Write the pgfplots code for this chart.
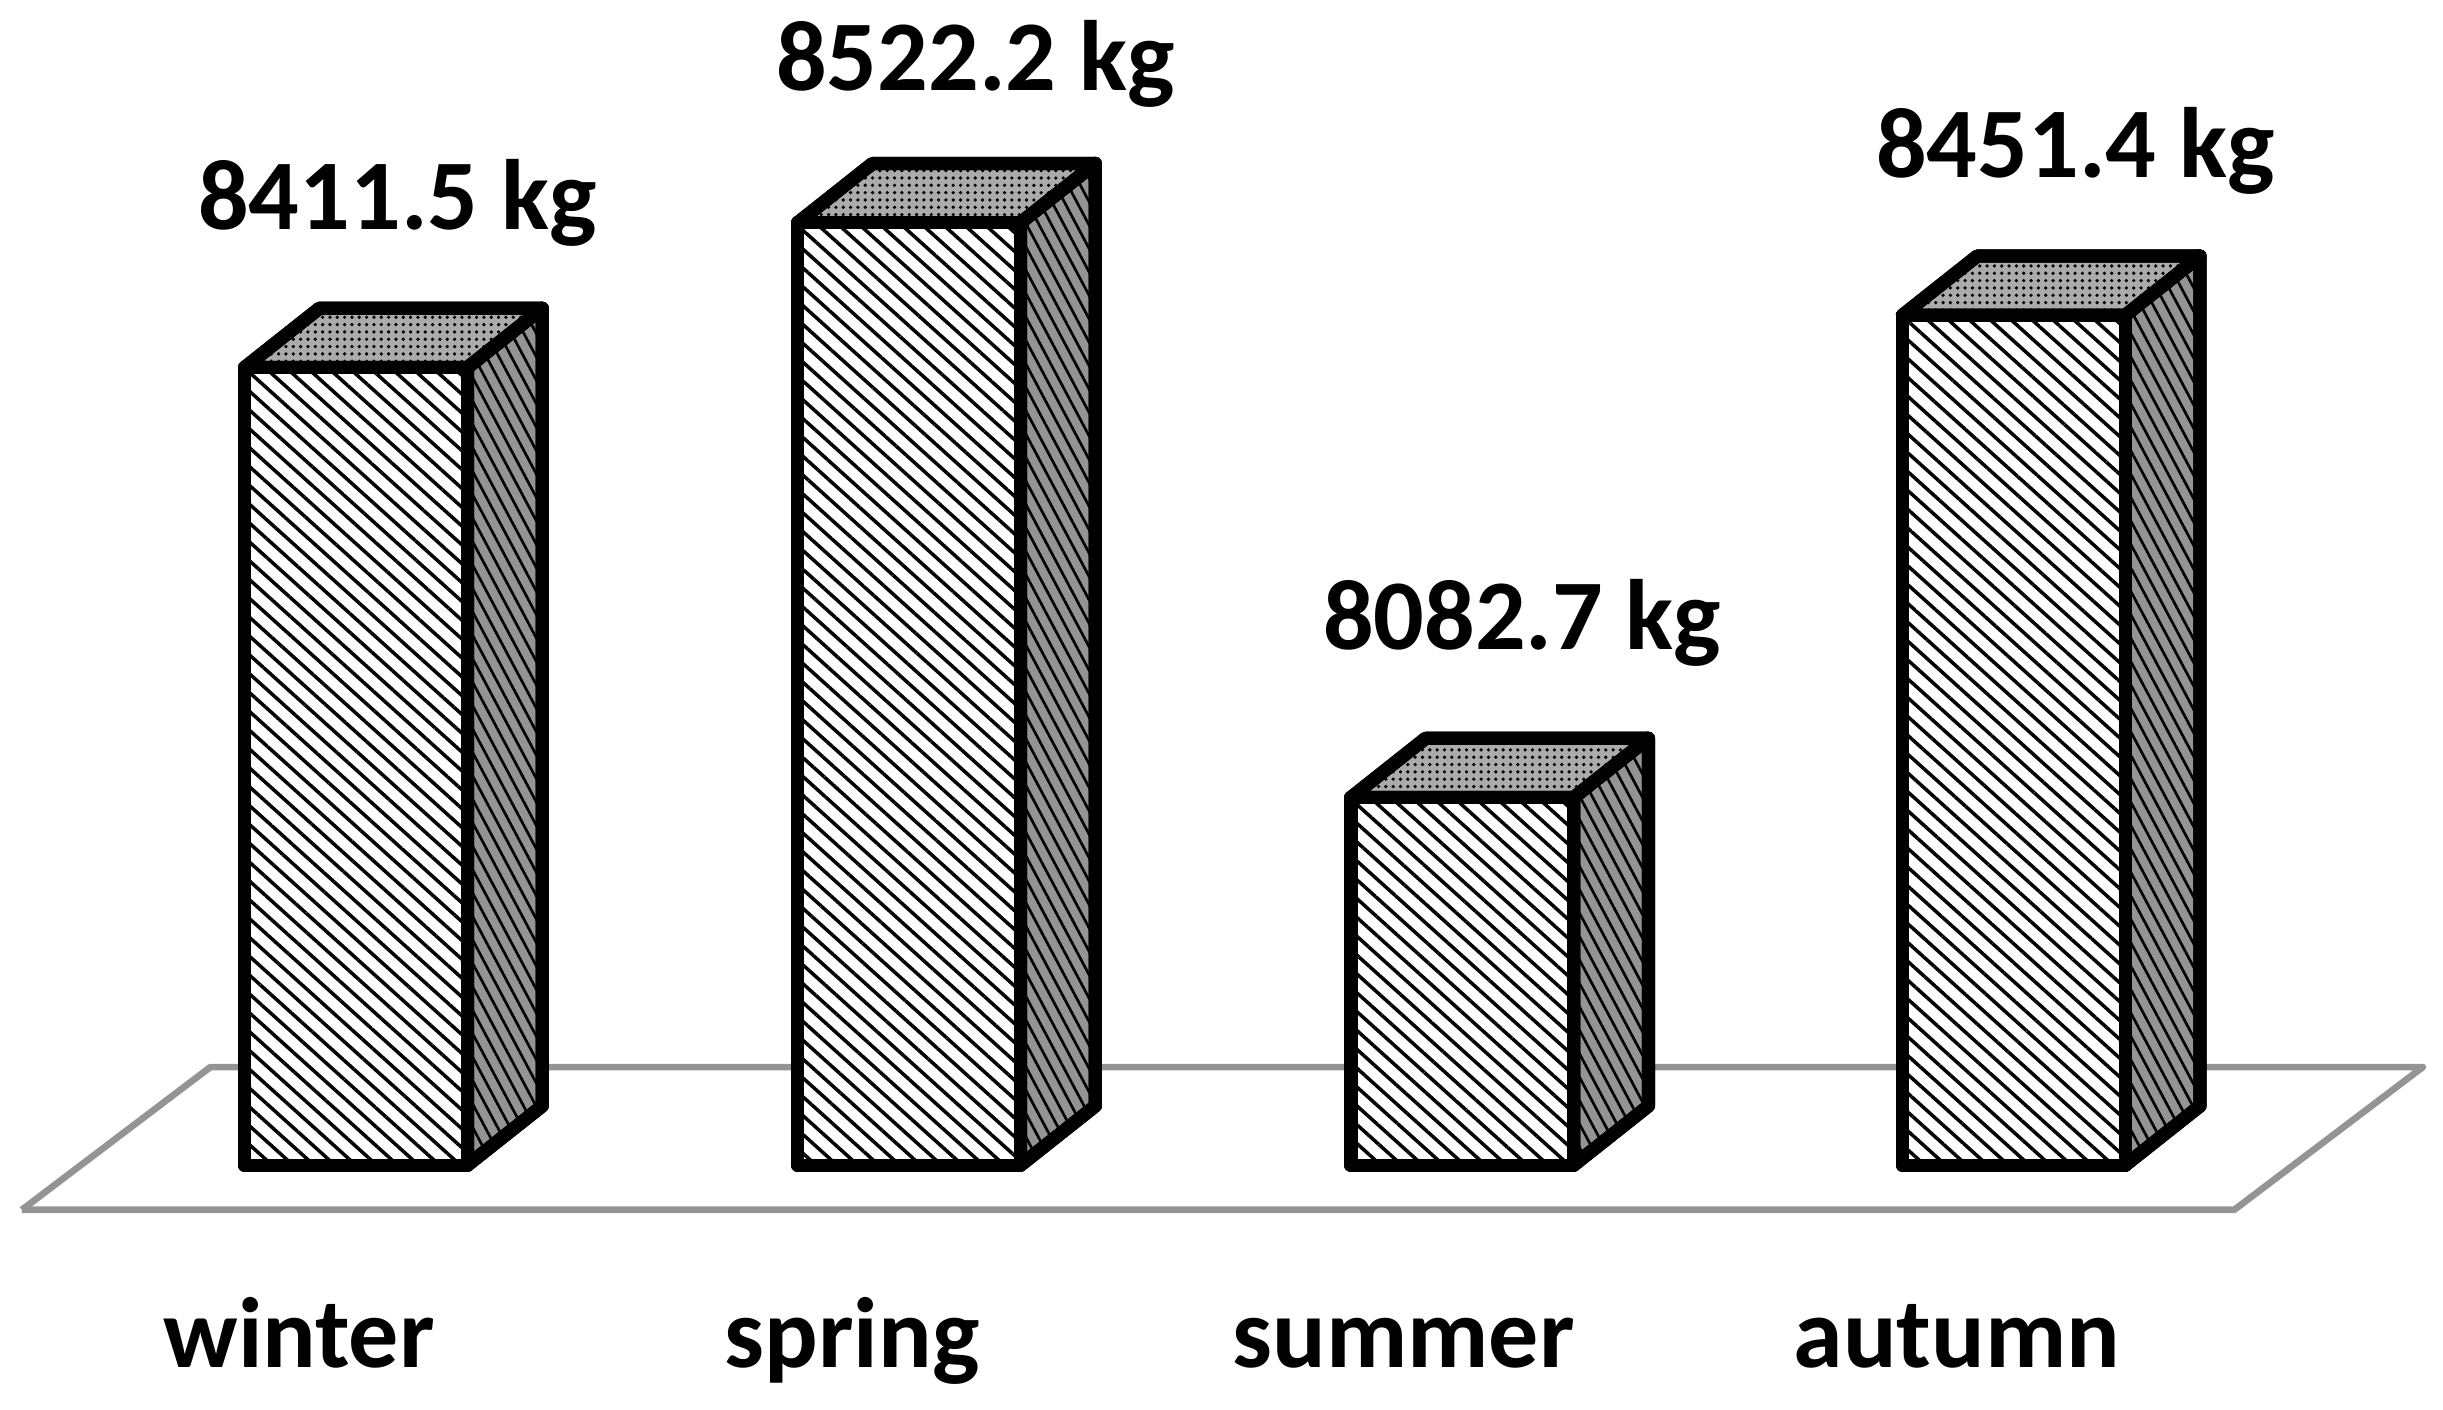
\documentclass[border=0pt]{standalone}
\usepackage{fontspec}
\setmainfont{Carlito}
\usepackage{pgfplots}
\pgfplotsset{compat=1.18}
\usetikzlibrary{patterns.meta}
\tikzset{
  front/.style={draw=black,line width=4pt,line join=round,fill=white,
    postaction={pattern={Lines[angle=-42,distance=4.2pt,line width=1.05pt]},pattern color=black}},
  side/.style={draw=black,line width=4pt,line join=round,fill=black!42,
    postaction={pattern={Lines[angle=-62,distance=3.3pt,line width=0.8pt]},pattern color=black}},
  topf/.style={draw=black,line width=4pt,line join=round,fill=black!33,
    postaction={pattern={Dots[angle=0,distance=2.2pt,radius=0.55pt]},pattern color=black}},
  val/.style={font=\fontsize{30}{34}\selectfont\bfseries,anchor=center}
}
\begin{document}
\begin{tikzpicture}
\begin{axis}[
  scale only axis, width=733pt, height=423pt,
  xmin=0, xmax=1568, ymin=7614.6, ymax=8692.5,
  axis line style={draw=none}, tick style={draw=none},
  ytick=\empty,
  xtick={192,547,901,1256},
  xticklabels={winter,spring,summer,autumn},
  xticklabel style={font=\fontsize{30}{34}\selectfont\bfseries,anchor=base,yshift=12.6pt},
  clip=false
]
% floor
\addplot[draw=black!42,line width=2pt,line join=round] coordinates {(14,7767.5)(135,7876.6)(1555,7876.6)(1434,7767.5)(14,7767.5)};
% winter 8411.5
\addplot[side] coordinates {(300,7801.6)(300,8411.5)(348,8456.8)(348,7846.9)} -- cycle;
\addplot[topf] coordinates {(157,8411.5)(205,8456.8)(348,8456.8)(300,8411.5)} -- cycle;
\addplot[front] coordinates {(157,7801.6)(157,8411.5)(300,8411.5)(300,7801.6)} -- cycle;
% spring 8522.2
\addplot[side] coordinates {(655,7801.6)(655,8522.2)(703,8567.5)(703,7846.9)} -- cycle;
\addplot[topf] coordinates {(512,8522.2)(560,8567.5)(703,8567.5)(655,8522.2)} -- cycle;
\addplot[front] coordinates {(512,7801.6)(512,8522.2)(655,8522.2)(655,7801.6)} -- cycle;
% summer 8082.7
\addplot[side] coordinates {(1010,7801.6)(1010,8082.7)(1058,8128)(1058,7846.9)} -- cycle;
\addplot[topf] coordinates {(867,8082.7)(915,8128)(1058,8128)(1010,8082.7)} -- cycle;
\addplot[front] coordinates {(867,7801.6)(867,8082.7)(1010,8082.7)(1010,7801.6)} -- cycle;
% autumn 8451.4
\addplot[side] coordinates {(1364,7801.6)(1364,8451.4)(1412,8496.7)(1412,7846.9)} -- cycle;
\addplot[topf] coordinates {(1221,8451.4)(1269,8496.7)(1412,8496.7)(1364,8451.4)} -- cycle;
\addplot[front] coordinates {(1221,7801.6)(1221,8451.4)(1364,8451.4)(1364,7801.6)} -- cycle;
\node[val] at (axis cs:255,8537) {8411.5 kg};
\node[val] at (axis cs:626,8644) {8522.2 kg};
\node[val] at (axis cs:977,8216) {8082.7 kg};
\node[val] at (axis cs:1332,8577) {8451.4 kg};
\end{axis}
\end{tikzpicture}
\end{document}
